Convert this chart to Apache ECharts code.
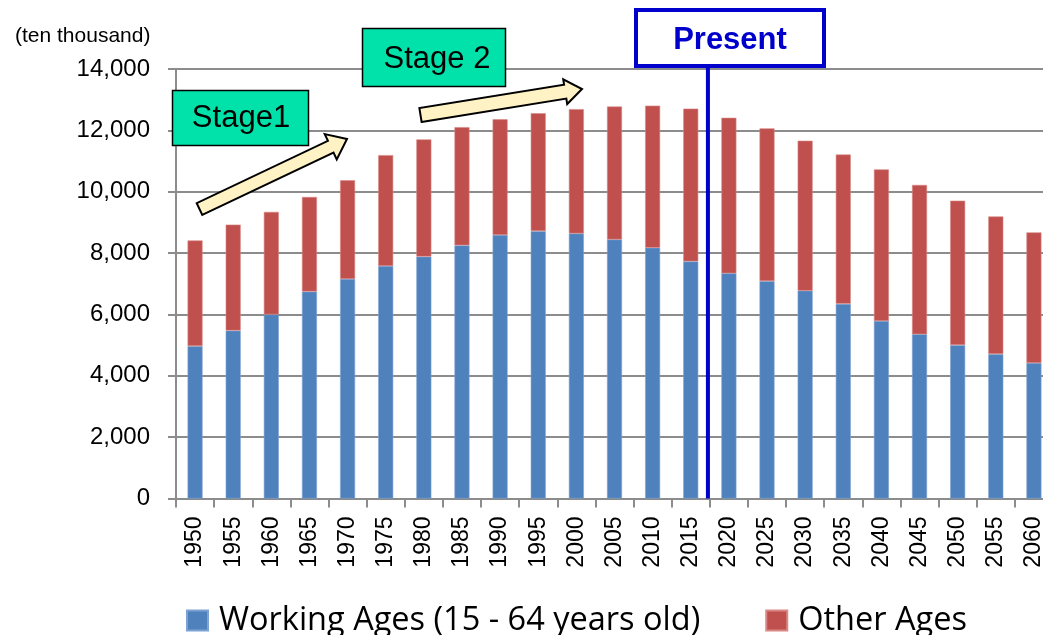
<!DOCTYPE html>
<html>
<head>
<meta charset="utf-8">
<script src="https://cdn.jsdelivr.net/npm/echarts@6/dist/echarts.min.js"></script>
<style>
html,body{margin:0;padding:0;background:#fff;overflow:hidden;width:1043px;height:635px;}
#chart{width:1053px;height:635px;}
</style>
</head>
<body>
<div id="chart"></div>
<script>
const years = ['1950','1955','1960','1965','1970','1975','1980','1985','1990','1995','2000','2005','2010','2015','2020','2025','2030','2035','2040','2045','2050','2055','2060'];
const workingAges = [4966,5473,6000,6744,7157,7581,7883,8251,8590,8716,8638,8442,8173,7728,7341,7085,6773,6343,5787,5353,5001,4706,4418];
const otherAges = [3445,3455,3342,3084,3215,3613,3823,3854,3771,3841,4055,4335,4633,4981,5069,4981,4889,4869,4941,4868,4707,4487,4256];
const yTicks = [0,2000,4000,6000,8000,10000,12000,14000];
const seriesNames = ['Working Ages (15 - 64 years old)','Other Ages'];
const unitLabel = '(ten thousand)';
const presentAfter = '2015', presentBefore = '2020';

const chart = echarts.init(document.getElementById('chart'));
const gridColor = '#8c8c8c';
chart.setOption({
  animation:false,
  title:{text:unitLabel,left:10,top:21,textStyle:{fontFamily:'Liberation Sans, Arial',fontSize:21,fontWeight:'normal',color:'#000'}},
  legend:{
    left:181, top:599, itemWidth:21, itemHeight:20, itemGap:65,
    icon:'rect',
    textStyle:{fontFamily:'Open Sans',fontSize:32.5,color:'#000',padding:[0,0,0,6]},
    data:seriesNames
  },
  grid:{left:176,right:0,top:69,bottom:136.5,containLabel:false},
  xAxis:{
    type:'category', data:years,
    axisLine:{lineStyle:{color:gridColor,width:2}},
    axisTick:{show:true,length:9,alignWithLabel:false,lineStyle:{color:gridColor,width:2}},
    axisLabel:{rotate:90,margin:18,fontFamily:'Liberation Sans, Arial',fontSize:23,color:'#000',interval:0}
  },
  yAxis:{
    type:'value', min:yTicks[0], max:yTicks[yTicks.length-1], interval:2000,
    axisLine:{show:true,lineStyle:{color:gridColor,width:2}},
    axisTick:{show:true,length:8,lineStyle:{color:gridColor,width:2}},
    splitLine:{lineStyle:{color:gridColor,width:2}},
    axisLabel:{margin:26,fontFamily:'Liberation Sans, Arial',fontSize:24,color:'#000',
      formatter:v=>v.toLocaleString('en-US')}
  },
  series:[
    {name:seriesNames[0],type:'bar',stack:'pop',barWidth:15,data:workingAges,
     itemStyle:{color:'#4f81bd',borderColor:'#7ea3d2',borderWidth:0.6}},
    {name:seriesNames[1],type:'bar',stack:'pop',barWidth:15,data:otherAges,
     itemStyle:{color:'#c0504d',borderColor:'#d98885',borderWidth:0.6}}
  ]
});

function arrowPoints(x1,y1,x2,y2,sw,hw,hl){
  const dx=x2-x1, dy=y2-y1, L=Math.hypot(dx,dy);
  const ux=dx/L, uy=dy/L, px=-uy, py=ux;
  const bx=x2-ux*hl, by=y2-uy*hl;
  const p=(x,y,o)=>[x+px*o,y+py*o];
  return [p(x1,y1,sw/2),p(bx,by,sw/2),p(bx,by,hw/2),[x2,y2],p(bx,by,-hw/2),p(bx,by,-sw/2),p(x1,y1,-sw/2)];
}

const a = chart.convertToPixel({xAxisIndex:0}, presentAfter);
const b = chart.convertToPixel({xAxisIndex:0}, presentBefore);
const px = a + (b-a)*0.45;
const y0 = chart.convertToPixel({yAxisIndex:0}, 0);
const boxFont = 'Liberation Sans, Arial';
chart.setOption({
  graphic:[
    {type:'line',shape:{x1:px,y1:66,x2:px,y2:y0},style:{stroke:'#0000cc',lineWidth:4},z:100},
    {type:'rect',shape:{x:636,y:10,width:188,height:56},style:{fill:'#fff',stroke:'#0000cc',lineWidth:4},z:100},
    {type:'text',x:730,y:40,style:{text:'Present',fill:'#0000cc',font:'bold 31px '+boxFont,align:'center',verticalAlign:'middle'},z:101},
    {type:'rect',shape:{x:172.5,y:90.5,width:136,height:55},style:{fill:'#00e2aa',stroke:'#000',lineWidth:1.5},z:100},
    {type:'text',x:241,y:118,style:{text:'Stage1',fill:'#000',font:'31px '+boxFont,align:'center',verticalAlign:'middle'},z:101},
    {type:'rect',shape:{x:362.5,y:28.5,width:143,height:58},style:{fill:'#00e2aa',stroke:'#000',lineWidth:1.5},z:100},
    {type:'text',x:437,y:59,style:{text:'Stage 2',fill:'#000',font:'31px '+boxFont,align:'center',verticalAlign:'middle'},z:101},
    {type:'polygon',shape:{points:arrowPoints(199.5,209,347,139,13,28,18)},style:{fill:'#fff2c4',stroke:'#000',lineWidth:2},z:100},
    {type:'polygon',shape:{points:arrowPoints(420.5,115,582,89,14,25,17)},style:{fill:'#fff2c4',stroke:'#000',lineWidth:2},z:100}
  ]
});
</script>
</body>
</html>
